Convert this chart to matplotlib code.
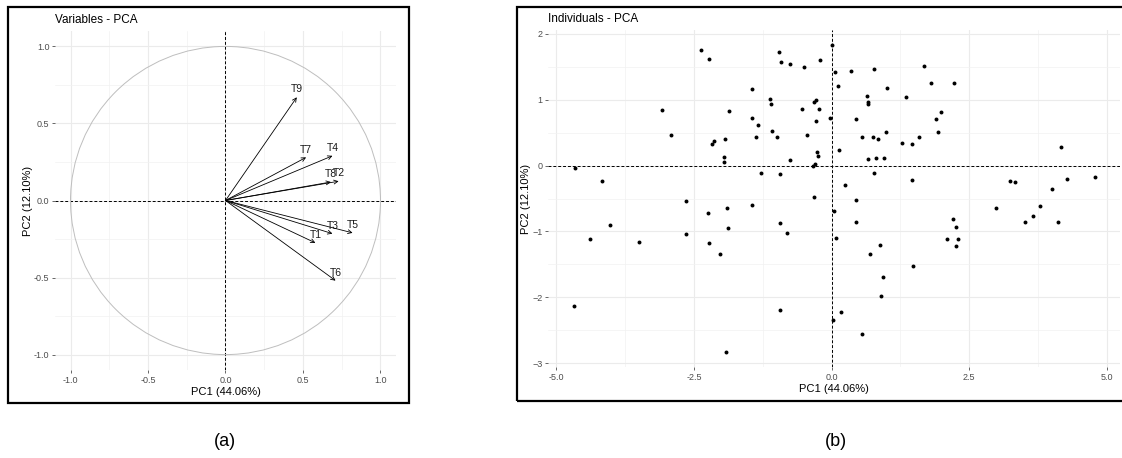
import numpy as np
import matplotlib
matplotlib.use("Agg")
import matplotlib.pyplot as plt
from matplotlib.patches import Rectangle, Circle

plt.rcParams['font.family'] = ['Liberation Sans', 'DejaVu Sans']

# variable loadings (PC1, PC2)
var_names = ["T1", "T2", "T3", "T4", "T5", "T6", "T7", "T8", "T9"]
var_pc1 = [0.58, 0.73, 0.69, 0.69, 0.82, 0.71, 0.52, 0.68, 0.46]
var_pc2 = [-0.275, 0.125, -0.215, 0.29, -0.21, -0.52, 0.28, 0.12, 0.67]

# individuals scores
ind_pc1 = [-4.66, -4.17, -3.08, -2.91, -2.37, -2.23, -2.18, -2.13, -1.94, -1.95,
           -1.96, -1.86, -1.45, -1.45, -1.34, -1.37, -1.29, -1.11, -1.10, -1.08,
           -0.99, -0.96, -0.92, -0.94, -0.76, -0.76, -0.53, -0.50, -0.45, -0.32,
           -0.28, -0.23, -0.28, -0.27, -0.25, -0.30, -0.33, -0.31, -0.21, -0.03,
           0.00,
           0.07, 0.12, 0.13, 0.25, 0.36, 0.44, 0.56, 0.64, 0.66, 0.67,
           0.66, 0.77, 0.76, 0.84, 0.80, 0.77, 0.99, 0.96, 1.00, 1.28,
           1.35, 1.46, 1.46, 1.58, 1.68, 1.80, 1.89, 1.98, 1.94, 2.22,
           3.25, 3.34, 4.16, 4.01, 4.27, 4.78,
           -4.67, -4.39, -4.02, -3.49, -2.65, -2.65, -2.25, -2.22, -2.02, -1.90,
           -1.88, -1.91, -1.44, -0.94, -0.81, -0.94,
           0.44, 0.05, 0.45, 0.08, 0.88, 0.69, 0.94, 0.90, 1.48, 0.17,
           0.02, 0.56, 2.99, 2.21, 2.27, 2.09, 2.29, 2.26, 3.51, 3.66,
           3.79, 4.11]
ind_pc2 = [-0.03, -0.24, 0.84, 0.46, 1.75, 1.62, 0.33, 0.38, 0.41, 0.13,
           0.05, 0.83, 1.16, 0.73, 0.61, 0.43, -0.11, 1.01, 0.93, 0.53,
           0.43, 1.73, 1.57, -0.13, 1.55, 0.09, 0.86, 1.50, 0.46, 0.97,
           1.00, 0.86, 0.68, 0.20, 0.15, 0.02, -0.01, -0.47, 1.60, 0.73,
           1.83,
           1.42, 1.21, 0.24, -0.29, 1.43, 0.71, 0.43, 1.05, 0.96, 0.94,
           0.10, 1.46, 0.44, 0.40, 0.11, -0.12, 0.51, 0.11, 1.18, 0.34,
           1.04, 0.33, -0.22, 0.44, 1.52, 1.26, 0.71, 0.82, 0.51, 1.25,
           -0.23, -0.25, 0.29, -0.36, -0.21, -0.17,
           -2.13, -1.12, -0.90, -1.16, -0.54, -1.04, -0.72, -1.17, -1.35, -0.65,
           -0.95, -2.83, -0.60, -0.87, -1.02, -2.20,
           -0.53, -0.69, -0.86, -1.10, -1.21, -1.35, -1.69, -1.98, -1.52, -2.23,
           -2.34, -2.56, -0.65, -0.81, -0.94, -1.12, -1.11, -1.22, -0.85, -0.77,
           -0.61, -0.86]

W, H = 1122, 458
fig = plt.figure(figsize=(W / 100, H / 100), dpi=100)


def px_axes(x0, y0, x1, y1):
    # pixel box (top-left origin) -> figure axes
    return fig.add_axes([x0 / W, 1 - y1 / H, (x1 - x0) / W, (y1 - y0) / H])


def style(ax, major_x, minor_x, major_y, minor_y):
    for v in major_x:
        ax.axvline(v, color='#EBEBEB', lw=0.8, zorder=0)
    for v in minor_x:
        ax.axvline(v, color='#F2F2F2', lw=0.5, zorder=0)
    for v in major_y:
        ax.axhline(v, color='#EBEBEB', lw=0.8, zorder=0)
    for v in minor_y:
        ax.axhline(v, color='#F2F2F2', lw=0.5, zorder=0)
    for s in ax.spines.values():
        s.set_visible(False)
    ax.tick_params(colors='#4D4D4D', labelsize=6.5, length=2, width=0.6, pad=2)
    ax.axhline(0, color='black', lw=0.7, ls=(0, (3, 2)), zorder=1)
    ax.axvline(0, color='black', lw=0.7, ls=(0, (3, 2)), zorder=1)


# ---- (a) variables ----
ax1 = px_axes(55, 31, 396, 370)
ax1.set_xlim(-1.1, 1.1)
ax1.set_ylim(-1.1, 1.1)
style(ax1, [-1, -0.5, 0, 0.5, 1], [-0.75, -0.25, 0.25, 0.75],
      [-1, -0.5, 0, 0.5, 1], [-0.75, -0.25, 0.25, 0.75])
ax1.add_patch(Circle((0, 0), 1, fill=False, color='#BEBEBE', lw=0.7))
for name, x, y in zip(var_names, var_pc1, var_pc2):
    ax1.annotate("", xy=(x, y), xytext=(0, 0),
                 arrowprops=dict(arrowstyle='->', color='black', lw=0.6,
                                 mutation_scale=7, shrinkA=0, shrinkB=0))
    ax1.annotate(name, (x, y), xytext=(0, 2), textcoords='offset points',
                 ha='center', va='bottom', fontsize=7.5, color='#1a1a1a')
ax1.set_xticks([-1, -0.5, 0, 0.5, 1])
ax1.set_xticklabels(["-1.0", "-0.5", "0.0", "0.5", "1.0"])
ax1.set_yticks([-1, -0.5, 0, 0.5, 1])
ax1.set_yticklabels(["-1.0", "-0.5", "0.0", "0.5", "1.0"])
ax1.set_xlabel("PC1 (44.06%)", fontsize=8, labelpad=2)
ax1.set_ylabel("PC2 (12.10%)", fontsize=8, labelpad=1)
ax1.set_title("Variables - PCA", fontsize=8.5, loc='left', pad=6)

# ---- (b) individuals ----
ax2 = px_axes(548, 30, 1120, 367)
ax2.set_xlim(-5.15, 5.24)
ax2.set_ylim(-3.06, 2.06)
style(ax2, [-5, -2.5, 0, 2.5, 5], [-3.75, -1.25, 1.25, 3.75],
      [-3, -2, -1, 0, 1, 2], [-2.5, -1.5, -0.5, 0.5, 1.5])
ax2.scatter(ind_pc1, ind_pc2, s=8, color='black', zorder=3, linewidths=0)
ax2.set_xticks([-5, -2.5, 0, 2.5, 5])
ax2.set_xticklabels(["-5.0", "-2.5", "0.0", "2.5", "5.0"])
ax2.set_yticks([-3, -2, -1, 0, 1, 2])
ax2.set_xlabel("PC1 (44.06%)", fontsize=8, labelpad=2)
ax2.set_ylabel("PC2 (12.10%)", fontsize=8, labelpad=1)
ax2.set_title("Individuals - PCA", fontsize=8.5, loc='left', pad=6)

# frames
fig.add_artist(Rectangle((8 / W, 1 - 403 / H), 401 / W, 396 / H,
                         transform=fig.transFigure, fill=False, lw=1.6, color='black'))
fig.add_artist(Rectangle((517 / W, 1 - 401 / H), 620 / W, 394 / H,
                         transform=fig.transFigure, fill=False, lw=1.6, color='black'))

# captions
fig.text(225 / W, 1 - 442 / H, "(a)", ha='center', va='center', fontsize=13)
fig.text(836 / W, 1 - 442 / H, "(b)", ha='center', va='center', fontsize=13)

fig.savefig("out.png", dpi=100)
